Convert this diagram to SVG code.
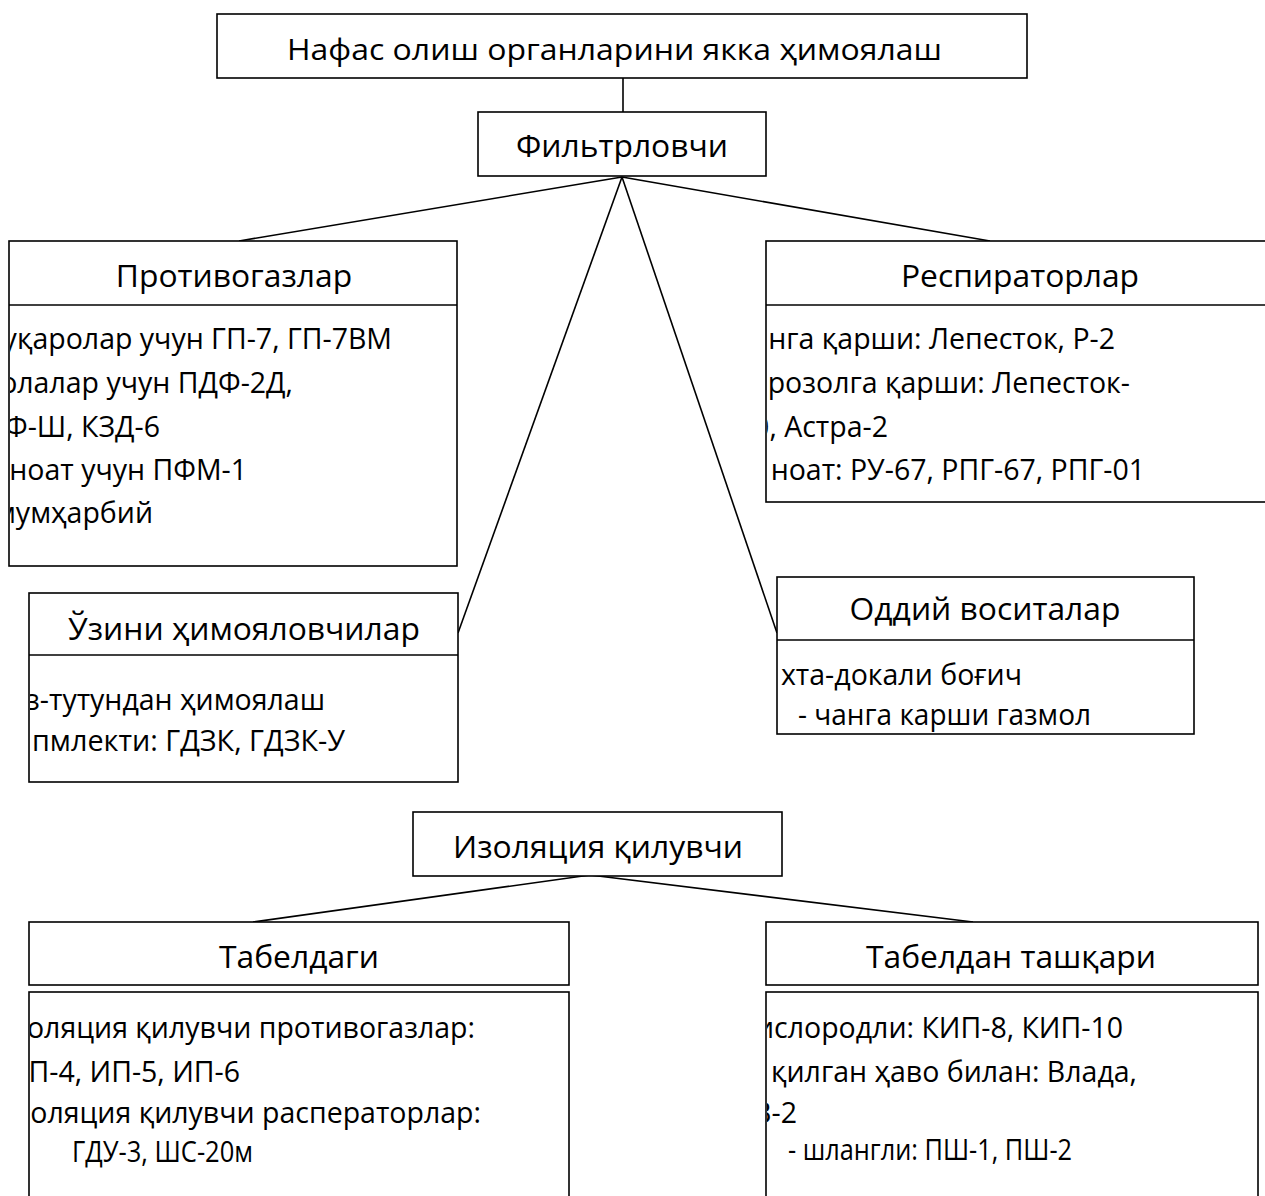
<svg xmlns="http://www.w3.org/2000/svg" width="1265" height="1196" viewBox="0 0 1265 1196">
<style>
.box{fill:#fff;stroke:#000;stroke-width:1.6}
.ln{stroke:#000;stroke-width:1.6;fill:none}
.t{font-family:"Open Sans","Noto Sans","DejaVu Sans",sans-serif;fill:#000}
.h{font-size:31.8px;text-anchor:middle}
.b{font-size:28.5px}
.e{text-anchor:end}
</style>
<defs>
<clipPath id="c1"><rect x="10" y="306" width="447" height="260"/></clipPath>
<clipPath id="c2"><rect x="767" y="306" width="500" height="196"/></clipPath>
<clipPath id="c3"><rect x="30" y="656" width="428" height="126"/></clipPath>
<clipPath id="c4"><rect x="778" y="641" width="416" height="92"/></clipPath>
<clipPath id="c5"><rect x="30" y="993" width="539" height="210"/></clipPath>
<clipPath id="c6"><rect x="767" y="993" width="491" height="210"/></clipPath>
</defs>
<g id="connectors">
<line class="ln" x1="623" y1="78" x2="623" y2="112"/>
<line class="ln" x1="622" y1="177" x2="239" y2="241"/>
<line class="ln" x1="622" y1="177" x2="990" y2="241"/>
<line class="ln" x1="622" y1="177" x2="458" y2="633"/>
<line class="ln" x1="622" y1="177" x2="777" y2="633"/>
<line class="ln" x1="590" y1="875" x2="253" y2="922"/>
<line class="ln" x1="590" y1="875" x2="973" y2="922"/>
</g>
<g id="title">
<rect class="box" x="217" y="14" width="810" height="64"/>
<text class="t" x="287" y="60" font-size="30" textLength="655" lengthAdjust="spacingAndGlyphs">Нафас олиш органларини якка ҳимоялаш</text>
</g>
<g id="filter">
<rect class="box" x="478" y="112" width="288" height="64"/>
<text class="t h" x="622" y="157">Фильтрловчи</text>
</g>
<g id="gasmasks">
<rect class="box" x="9" y="241" width="448" height="325"/>
<line class="ln" x1="9" y1="305" x2="457" y2="305"/>
<text class="t h" x="234" y="287">Противогазлар</text>
<g clip-path="url(#c1)" class="t b e">
<text x="392" y="349">уқаролар учун ГП-7, ГП-7ВМ</text>
<text x="293" y="393">олалар учун ПДФ-2Д,</text>
<text x="160" y="437">Ф-Ш, КЗД-6</text>
<text x="247" y="480">ноат учун ПФМ-1</text>
<text x="153" y="523">мумҳарбий</text>
</g>
</g>
<g id="respirators">
<rect class="box" x="766" y="241" width="510" height="261"/>
<line class="ln" x1="766" y1="305" x2="1270" y2="305"/>
<text class="t h" x="1020" y="287">Респираторлар</text>
<g clip-path="url(#c2)" class="t b e">
<text x="1115" y="349">нга қарши: Лепесток, Р-2</text>
<text x="1130" y="393">розолга қарши: Лепесток-</text>
<text x="888" y="437">0, Астра-2</text>
<text x="1145" y="480">ноат: РУ-67, РПГ-67, РПГ-01</text>
</g>
</g>
<g id="selfrescuers">
<rect class="box" x="29" y="593" width="429" height="189"/>
<line class="ln" x1="29" y1="655" x2="458" y2="655"/>
<text class="t h" x="244" y="640">Ўзини ҳимояловчилар</text>
<g clip-path="url(#c3)" class="t b e">
<text x="325" y="710">з-тутундан ҳимоялаш</text>
<text x="345" y="751" textLength="313" lengthAdjust="spacingAndGlyphs">пмлекти: ГДЗК, ГДЗК-У</text>
</g>
</g>
<g id="simple">
<rect class="box" x="777" y="577" width="417" height="157"/>
<line class="ln" x1="777" y1="640" x2="1194" y2="640"/>
<text class="t h" x="985" y="620">Оддий воситалар</text>
<g clip-path="url(#c4)" class="t b">
<text class="e" x="1022" y="685">хта-докали боғич</text>
<text x="798" y="725" textLength="293" lengthAdjust="spacingAndGlyphs">- чанга карши газмол</text>
</g>
</g>
<g id="isolating">
<rect class="box" x="413" y="812" width="369" height="64"/>
<text class="t h" x="598" y="858">Изоляция қилувчи</text>
</g>
<g id="tabel">
<rect class="box" x="29" y="922" width="540" height="63"/>
<text class="t h" x="299" y="968">Табелдаги</text>
<rect class="box" x="29" y="992" width="540" height="230"/>
<g clip-path="url(#c5)" class="t b">
<text class="e" x="475" y="1038">оляция қилувчи противогазлар:</text>
<text class="e" x="240" y="1082">П-4, ИП-5, ИП-6</text>
<text class="e" x="481" y="1123">оляция қилувчи расператорлар:</text>
<text x="72" y="1162" textLength="181" lengthAdjust="spacingAndGlyphs">ГДУ-3, ШС-20м</text>
</g>
</g>
<g id="nontabel">
<rect class="box" x="766" y="922" width="492" height="63"/>
<text class="t h" x="1011" y="968">Табелдан ташқари</text>
<rect class="box" x="766" y="992" width="492" height="230"/>
<g clip-path="url(#c6)" class="t b">
<text class="e" x="1123" y="1038">ислородли: КИП-8, КИП-10</text>
<text class="e" x="1137" y="1082">қилган ҳаво билан: Влада,</text>
<text class="e" x="797" y="1123">В-2</text>
<text x="788" y="1160" textLength="284" lengthAdjust="spacingAndGlyphs">- шлангли: ПШ-1, ПШ-2</text>
</g>
</g>
</svg>
